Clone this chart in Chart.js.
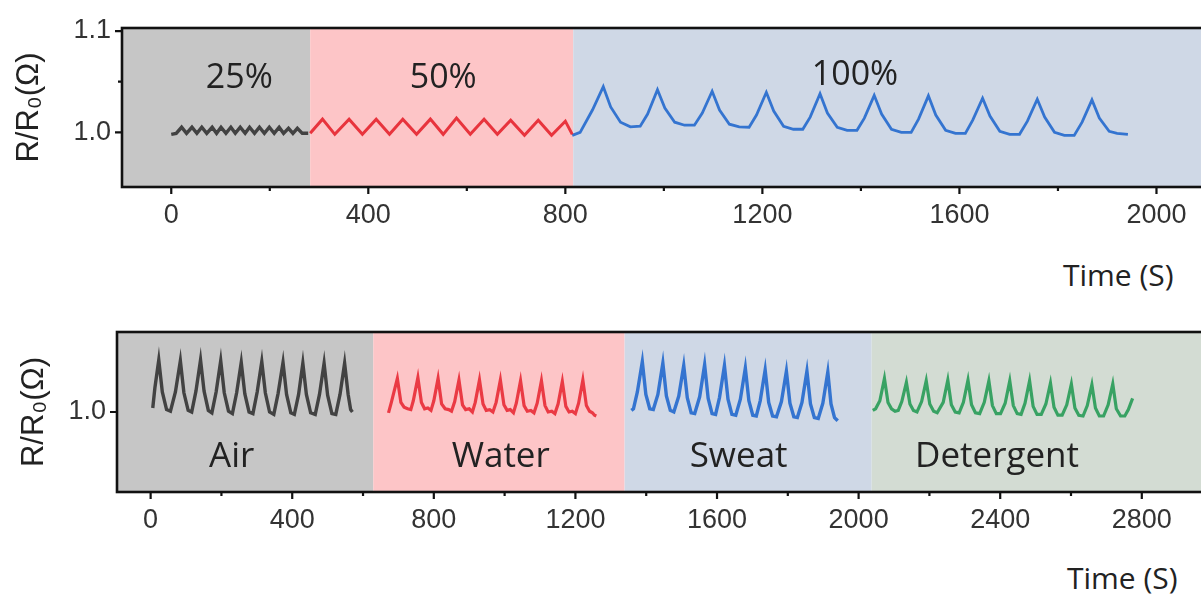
<!DOCTYPE html>
<html>
<head>
<meta charset="utf-8">
<script src="https://cdn.jsdelivr.net/npm/chart.js@4.4.1/dist/chart.umd.min.js"></script>
<style>
  body { margin: 0; background: #fff; width: 1201px; height: 594px; overflow: hidden; position: relative; }
  canvas { position: absolute; left: 0; }
  .xtitle { position: absolute; font: 30px "Open Sans", sans-serif; color: #222; line-height: 30px; white-space: nowrap; }
</style>
</head>
<body>
<canvas id="strainChart" width="1260" height="235" style="top:0;width:1260px;height:235px"></canvas>
<canvas id="mediaChart" width="1253" height="245" style="top:300px;width:1253px;height:245px"></canvas>
<div class="xtitle" style="left:1063px;top:260px">Time (S)</div>
<div class="xtitle" style="left:1067px;top:563px">Time (S)</div>
<script>
// ---- top panel: strain levels ----
const s25T = [0, 10, 21, 31, 42, 52, 62, 72, 83, 92, 101, 111, 121, 130, 140, 150, 159, 169, 179, 189, 199, 209, 219, 228, 238, 247, 256, 266, 278];
const s25V = [0.998, 0.999, 1.005, 0.999, 1.005, 0.999, 1.005, 0.999, 1.005, 0.999, 1.005, 0.999, 1.005, 0.999, 1.005, 0.999, 1.005, 0.999, 1.005, 0.999, 1.005, 0.999, 1.005, 0.999, 1.004, 0.999, 1.004, 0.999, 0.999];

const s50T = [282, 307, 332, 361, 388, 416, 443, 470, 498, 526, 552, 579, 607, 635, 662, 689, 717, 745, 772, 800, 814];
const s50V = [0.999, 1.013, 0.998, 1.013, 0.998, 1.013, 0.998, 1.013, 0.998, 1.013, 0.998, 1.014, 0.998, 1.013, 0.998, 1.012, 0.997, 1.012, 0.997, 1.011, 0.998];

const s100T = [814, 830, 855, 877, 892, 912, 932, 952, 967, 987, 1002, 1022, 1042, 1062, 1078, 1098, 1113, 1133, 1153, 1173, 1188, 1208, 1223, 1243, 1263, 1282, 1297, 1317, 1332, 1352, 1372, 1392, 1407, 1427, 1442, 1462, 1482, 1502, 1517, 1537, 1552, 1572, 1592, 1612, 1627, 1647, 1662, 1682, 1702, 1722, 1738, 1758, 1773, 1793, 1813, 1833, 1849, 1869, 1884, 1904, 1920, 1942];
const s100V = [0.997, 1.000, 1.022, 1.045, 1.025, 1.010, 1.0054, 1.006, 1.018, 1.042, 1.024, 1.010, 1.007, 1.007, 1.019, 1.0405, 1.022, 1.008, 1.0054, 1.005, 1.017, 1.0395, 1.021, 1.006, 1.003, 1.003, 1.015, 1.038, 1.019, 1.005, 1.002, 1.002, 1.014, 1.0365, 1.018, 1.003, 1.000, 1.000, 1.013, 1.036, 1.017, 1.002, 0.999, 0.999, 1.012, 1.0336, 1.016, 1.001, 0.998, 0.998, 1.011, 1.0326, 1.015, 1.000, 0.997, 0.997, 1.010, 1.032, 1.014, 1.001, 0.999, 0.998];

const strainXTicks = [0, 400, 800, 1200, 1600, 2000];
const strainXMinor = [200, 600, 1000, 1400, 1800];
const strainYTicks = [1.0, 1.1];
const strainYMinor = [1.05];
const strainBandEdges = [-100, 282, 816, 2200];
const strainLabels = ['25%', '50%', '100%'];
const strainLabelX = [138, 552, 1388];
const strainLabelY = [1.0438, 1.0438, 1.0467];

// ---- bottom panel: immersion media ----
const airT = [6, 12, 23, 33, 45, 56, 70, 84, 94, 106, 116, 128, 141, 151, 163, 173, 185, 198, 208, 220, 231, 243, 256, 266, 278, 289, 301, 314, 324, 336, 348, 360, 374, 384, 396, 406, 418, 430, 440, 452, 465, 477, 490, 500, 512, 523, 535, 548, 558, 565, 570];
const airV = [1.005, 1.03, 1.065, 1.025, 1.003, 1.001, 1.025, 1.064, 1.024, 1.002, 1.000, 1.026, 1.065, 1.026, 1.002, 0.999, 1.025, 1.064, 1.024, 1.001, 0.998, 1.024, 1.062, 1.023, 1.000, 0.998, 1.025, 1.063, 1.024, 1.000, 0.997, 1.023, 1.062, 1.022, 0.999, 0.997, 1.022, 1.061, 1.022, 0.999, 0.997, 1.022, 1.061, 1.021, 0.998, 0.997, 1.022, 1.061, 1.022, 1.003, 1.000];

const waterT = [672, 680, 697, 707, 716, 726, 735, 742, 755, 765, 774, 783, 792, 800, 812, 822, 832, 842, 850, 859, 871, 881, 890, 900, 909, 917, 929, 939, 948, 958, 967, 976, 988, 998, 1007, 1016, 1025, 1033, 1045, 1055, 1064, 1074, 1083, 1092, 1104, 1114, 1123, 1133, 1142, 1151, 1163, 1173, 1182, 1191, 1200, 1209, 1221, 1231, 1240, 1248, 1254, 1259];
const waterV = [0.999, 1.012, 1.042, 1.012, 1.006, 1.004, 1.003, 1.014, 1.043, 1.012, 1.004, 1.005, 1.002, 1.014, 1.042, 1.010, 1.004, 1.003, 1.001, 1.013, 1.040, 1.009, 1.003, 1.004, 1.000, 1.012, 1.040, 1.010, 1.002, 1.003, 1.000, 1.012, 1.040, 1.009, 1.002, 1.003, 0.999, 1.011, 1.039, 1.008, 1.001, 1.002, 0.999, 1.011, 1.039, 1.008, 1.000, 1.001, 0.998, 1.010, 1.038, 1.007, 1.000, 1.001, 0.998, 1.011, 1.040, 1.008, 1.001, 0.999, 0.996, 0.995];

const sweatT = [1358, 1364, 1375, 1389, 1399, 1410, 1420, 1433, 1447, 1457, 1468, 1478, 1492, 1506, 1516, 1527, 1537, 1551, 1565, 1575, 1586, 1596, 1607, 1621, 1631, 1642, 1653, 1666, 1680, 1690, 1701, 1711, 1722, 1736, 1746, 1757, 1768, 1782, 1796, 1806, 1817, 1827, 1840, 1854, 1864, 1875, 1886, 1899, 1913, 1922, 1932, 1941];
const sweatV = [1.002, 1.004, 1.025, 1.063, 1.022, 1.004, 1.003, 1.022, 1.061, 1.020, 1.002, 1.000, 1.020, 1.058, 1.018, 0.999, 0.998, 1.019, 1.059, 1.017, 0.998, 0.997, 1.018, 1.058, 1.016, 0.997, 0.996, 1.016, 1.055, 1.014, 0.996, 0.995, 1.014, 1.0525, 1.012, 0.995, 0.994, 1.013, 1.051, 1.011, 0.994, 0.993, 1.012, 1.051, 1.010, 0.993, 0.992, 1.011, 1.050, 1.010, 0.993, 0.989];

const detT = [2040, 2048, 2060, 2073, 2083, 2093, 2103, 2112, 2122, 2135, 2145, 2155, 2165, 2178, 2191, 2201, 2212, 2222, 2239, 2252, 2262, 2273, 2284, 2296, 2309, 2319, 2330, 2342, 2355, 2368, 2378, 2389, 2401, 2414, 2427, 2437, 2448, 2459, 2470, 2483, 2493, 2504, 2516, 2529, 2542, 2552, 2563, 2575, 2588, 2601, 2611, 2622, 2634, 2646, 2659, 2669, 2680, 2692, 2705, 2718, 2728, 2740, 2752, 2762, 2774];
const detV = [1.002, 1.004, 1.014, 1.042, 1.012, 1.004, 1.001, 1.002, 1.013, 1.037, 1.010, 1.002, 1.000, 1.013, 1.039, 1.010, 1.001, 0.999, 1.012, 1.040, 1.009, 1.000, 0.999, 1.012, 1.040, 1.009, 0.999, 0.998, 1.012, 1.039, 1.008, 0.998, 0.998, 1.011, 1.039, 1.008, 0.998, 0.997, 1.011, 1.039, 1.007, 0.997, 0.997, 1.010, 1.036, 1.006, 0.996, 0.996, 1.009, 1.035, 1.005, 0.996, 0.995, 1.008, 1.034, 1.005, 0.995, 0.995, 1.009, 1.035, 1.004, 0.995, 0.995, 1.003, 1.017];

const mediaXTicks = [0, 400, 800, 1200, 1600, 2000, 2400, 2800];
const mediaXMinor = [200, 600, 1000, 1400, 1800, 2200, 2600, 3000];
const mediaYTicks = [1.0];
const mediaYMinor = [];
const mediaBandEdges = [-95, 629, 1339, 2037, 3100];
const mediaLabels = ['Air', 'Water', 'Sweat', 'Detergent'];
const mediaLabelX = [229, 989, 1661, 2391];
const mediaLabelY = [0.931, 0.931, 0.931, 0.931];

const tickFont = { family: '"Liberation Sans", Arial, sans-serif', size: 27 };

function pts(ts, vs) {
    return ts.map((t, i) => ({ x: t, y: vs[i] }));
}

function series(ts, vs, color, width) {
    return {
        data: pts(ts, vs),
        borderColor: color,
        borderWidth: width,
        pointRadius: 0,
        tension: 0,
        fill: false
    };
}

// shaded regions, region names, frame and tick marks
const panelDecor = {
    id: 'panelDecor',
    beforeDatasetsDraw(chart, args, o) {
        const { ctx, chartArea: a, scales: { x } } = chart;
        ctx.save();
        for (let i = 0; i < o.bandColors.length; i++) {
            const x0 = x.getPixelForValue(o.bandEdges[i]);
            const x1 = x.getPixelForValue(o.bandEdges[i + 1]);
            ctx.fillStyle = o.bandColors[i];
            ctx.fillRect(x0, a.top, x1 - x0, a.bottom - a.top);
        }
        ctx.restore();
    },
    afterDatasetsDraw(chart, args, o) {
        const { ctx, scales: { x, y } } = chart;
        ctx.save();
        ctx.font = o.labelFont;
        ctx.fillStyle = '#222';
        ctx.textAlign = 'center';
        ctx.textBaseline = 'alphabetic';
        o.labels.forEach((txt, i) => {
            ctx.fillText(txt, x.getPixelForValue(o.labelX[i]), y.getPixelForValue(o.labelY[i]));
        });
        ctx.restore();
    },
    afterDraw(chart, args, o) {
        const { ctx, chartArea: a, scales: { x, y } } = chart;
        ctx.save();
        ctx.strokeStyle = '#111';
        ctx.lineWidth = 2.6;
        ctx.strokeRect(a.left, a.top, a.right - a.left, a.bottom - a.top);
        ctx.lineWidth = 2.2;
        ctx.beginPath();
        x.ticks.forEach(t => {
            const px = x.getPixelForValue(t.value);
            ctx.moveTo(px, a.bottom); ctx.lineTo(px, a.bottom + 7);
        });
        o.xMinor.forEach(v => {
            const px = x.getPixelForValue(v);
            ctx.moveTo(px, a.bottom); ctx.lineTo(px, a.bottom + 4);
        });
        y.ticks.forEach(t => {
            const py = y.getPixelForValue(t.value);
            ctx.moveTo(a.left, py); ctx.lineTo(a.left - 7, py);
        });
        o.yMinor.forEach(v => {
            const py = y.getPixelForValue(v);
            ctx.moveTo(a.left, py); ctx.lineTo(a.left - 4, py);
        });
        ctx.stroke();
        ctx.restore();
    }
};

function makePanel(id, cfg) {
    return new Chart(document.getElementById(id), {
        type: 'line',
        data: { datasets: cfg.datasets },
        plugins: [panelDecor],
        options: {
            responsive: false,
            animation: false,
            layout: { padding: { top: cfg.padTop, right: 5, left: 0, bottom: 0 } },
            plugins: {
                legend: { display: false },
                tooltip: { enabled: false },
                panelDecor: {
                    bandEdges: cfg.bandEdges,
                    bandColors: cfg.bandColors,
                    labels: cfg.labels,
                    labelX: cfg.labelX,
                    labelY: cfg.labelY,
                    labelFont: cfg.labelFont,
                    xMinor: cfg.xMinor,
                    yMinor: cfg.yMinor
                }
            },
            scales: {
                x: {
                    type: 'linear',
                    min: cfg.xMin,
                    max: cfg.xMax,
                    grid: { display: false },
                    border: { display: false },
                    afterBuildTicks: s => { s.ticks = cfg.xTicks.map(v => ({ value: v })); },
                    afterFit: s => { s.height = cfg.xHeight; },
                    ticks: {
                        font: tickFont,
                        color: '#333',
                        padding: 4,
                        maxRotation: 0,
                        autoSkip: false,
                        callback: v => String(v)
                    }
                },
                y: {
                    min: cfg.yMin,
                    max: cfg.yMax,
                    grid: { display: false },
                    border: { display: false },
                    afterBuildTicks: s => { s.ticks = cfg.yTicks.map(v => ({ value: v })); },
                    afterFit: s => { s.width = cfg.yWidth; },
                    ticks: {
                        font: tickFont,
                        color: '#333',
                        padding: 3,
                        callback: v => v.toFixed(1)
                    },
                    title: {
                        display: true,
                        text: 'R/R₀(Ω)',
                        color: '#222',
                        font: { family: '"Liberation Sans", Arial, sans-serif', size: 31, lineHeight: 1 },
                        padding: { top: cfg.titlePad, bottom: 0 }
                    }
                }
            }
        }
    });
}

makePanel('strainChart', {
    datasets: [
        series(s25T, s25V, '#424242', 3.4),
        series(s50T, s50V, '#e8343d', 3),
        series(s100T, s100V, '#3474d0', 2.8)
    ],
    padTop: 28, xHeight: 48, yWidth: 122, titlePad: 14,
    xMin: -100, xMax: 2200, yMin: 0.946, yMax: 1.103,
    xTicks: strainXTicks, xMinor: strainXMinor,
    yTicks: strainYTicks, yMinor: strainYMinor,
    bandEdges: strainBandEdges,
    bandColors: ['#c6c6c6', '#fdc5c7', '#cfd8e6'],
    labels: strainLabels, labelX: strainLabelX, labelY: strainLabelY,
    labelFont: '34px "Open Sans", sans-serif'
});

makePanel('mediaChart', {
    datasets: [
        series(airT, airV, '#424242', 3.4),
        series(waterT, waterV, '#ea3a44', 3.2),
        series(sweatT, sweatV, '#3474d0', 3.4),
        series(detT, detV, '#38a263', 3.2)
    ],
    padTop: 32, xHeight: 53, yWidth: 117, titlePad: 19,
    xMin: -95, xMax: 3100, yMin: 0.9, yMax: 1.1,
    xTicks: mediaXTicks, xMinor: mediaXMinor,
    yTicks: mediaYTicks, yMinor: mediaYMinor,
    bandEdges: mediaBandEdges,
    bandColors: ['#c6c6c6', '#fdc5c7', '#cfd8e6', '#d3dcd3'],
    labels: mediaLabels, labelX: mediaLabelX, labelY: mediaLabelY,
    labelFont: '35px "Open Sans", sans-serif'
});
</script>
</body>
</html>
